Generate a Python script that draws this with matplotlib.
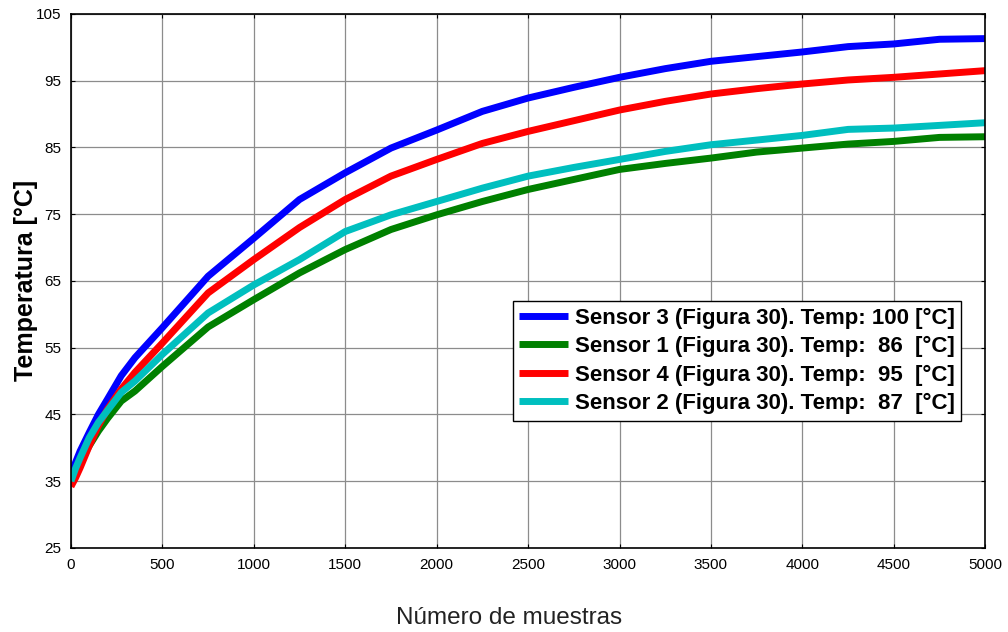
import numpy as np
import matplotlib.pyplot as plt

plt.rcParams['font.family'] = ['Liberation Sans', 'DejaVu Sans']

muestras = [0, 25, 50, 100, 150, 200, 275, 350, 500, 750, 1000, 1250, 1500, 1750, 2000, 2250,
            2500, 2750, 3000, 3250, 3500, 3750, 4000, 4250, 4500, 4750, 5000]
sensor3 = [35.7, 37.8, 39.5, 42.3, 45.0, 47.3, 50.8, 53.5, 58.0, 65.7, 71.4, 77.2, 81.2, 84.9, 87.6, 90.4,
           92.4, 94.0, 95.5, 96.8, 97.9, 98.6, 99.3, 100.1, 100.5, 101.2, 101.3]
sensor1 = [35.0, 36.5, 37.8, 40.3, 42.5, 44.4, 47.0, 48.5, 52.2, 58.1, 62.2, 66.2, 69.7, 72.7, 74.9, 76.9,
           78.7, 80.2, 81.7, 82.6, 83.4, 84.3, 84.9, 85.5, 85.9, 86.5, 86.6]
sensor4 = [34.2, 35.5, 37.0, 40.3, 43.3, 45.8, 48.8, 51.3, 55.7, 63.2, 68.2, 73.0, 77.2, 80.7, 83.2, 85.6,
           87.4, 89.0, 90.6, 91.9, 93.0, 93.8, 94.5, 95.1, 95.5, 96.0, 96.5]
sensor2 = [35.0, 36.9, 38.5, 41.5, 43.8, 45.6, 48.3, 50.0, 54.0, 60.2, 64.4, 68.2, 72.4, 74.9, 76.9, 78.9,
           80.7, 82.0, 83.2, 84.4, 85.4, 86.1, 86.8, 87.7, 87.9, 88.3, 88.7]

etiquetas = ['Sensor 3 (Figura 30). Temp: 100 [°C]',
             'Sensor 1 (Figura 30). Temp:  86  [°C]',
             'Sensor 4 (Figura 30). Temp:  95  [°C]',
             'Sensor 2 (Figura 30). Temp:  87  [°C]']
colores = ['#0000ff', '#008000', '#ff0000', '#00bfbf']

fig = plt.figure(figsize=(10.08, 6.32), dpi=100)
ax = fig.add_axes([0.0704, 0.133, 0.907, 0.845])

for serie, lab, col in zip([sensor3, sensor1, sensor4, sensor2], etiquetas, colores):
    ax.plot(muestras, serie, color=col, lw=5, label=lab, solid_capstyle='butt')

ax.set_xlim(0, 5000)
ax.set_ylim(25, 105)
ax.set_xticks(np.arange(0, 5001, 500))
ax.set_yticks(np.arange(25, 106, 10))
ax.grid(True, color='0.55', lw=0.9)
ax.set_axisbelow(True)
ax.tick_params(direction='in', top=True, right=True, labelsize=11, length=3, pad=7)
for s in ax.spines.values():
    s.set_linewidth(1.2)

ax.set_ylabel('Temperatura [°C]', fontsize=18, fontweight='bold')
ax.yaxis.set_label_coords(-0.036, 0.5)
fig.text(0.505, 0.022, 'Número de muestras', fontsize=17.5, color='#222222',
         ha='center', va='center')

leg = ax.legend(loc='upper right', bbox_to_anchor=(0.974, 0.4625), borderaxespad=0,
                fancybox=False, framealpha=1, edgecolor='black',
                prop={'weight': 'bold', 'size': 16}, handlelength=2.2,
                labelspacing=0.33, borderpad=0.3, handletextpad=0.3)
leg.get_frame().set_linewidth(1.0)

fig.savefig('out.png', dpi=100)
